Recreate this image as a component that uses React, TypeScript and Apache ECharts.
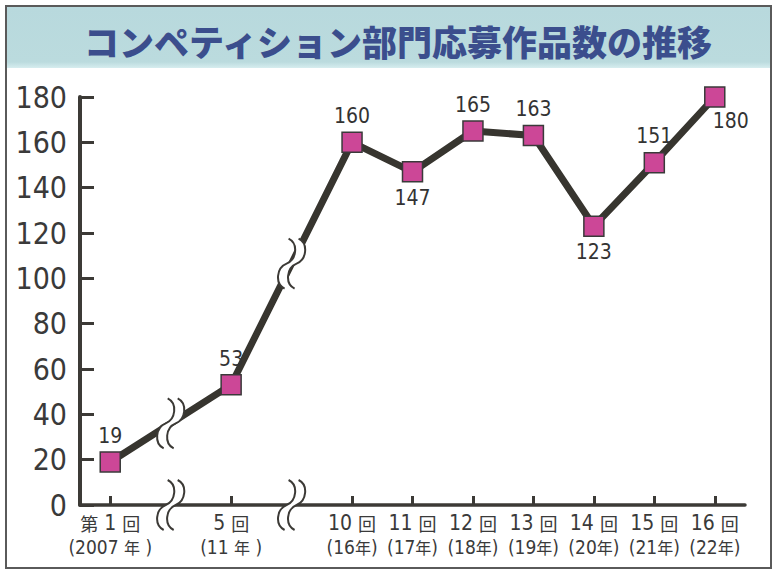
import React, { useEffect, useRef } from 'react';
import * as echarts from 'echarts';

const titleText = 'コンペティション部門応募作品数の推移';
const rounds = ['第 1 回', '', '5 回', '', '10 回', '11 回', '12 回', '13 回', '14 回', '15 回', '16 回'];
const years = ['(2007 年 )', '', '(11 年 )', '', '(16年)', '(17年)', '(18年)', '(19年)', '(20年)', '(21年)', '(22年)'];
const entries: (number | null)[] = [19, null, 53, null, 160, 147, 165, 163, 123, 151, 180];
const yMin = 0;
const yMax = 180;
const yStep = 20;

const NUM_FONT = "'DejaVu Sans Condensed', sans-serif";
const CJK_FONT = "'Noto Sans CJK JP', sans-serif";

const brkLine = 'M2 -25 C12 -20 10 -4 0 0 C-10 4 -12 20 -2 25 M12 -25 C22 -20 20 -4 10 0 C0 4 -2 20 8 25';
const brkFill = 'M2 -25 C12 -20 10 -4 0 0 C-10 4 -12 20 -2 25 L8 25 C-2 20 0 4 10 0 C20 -4 22 -20 12 -25 Z';
echarts.graphic.registerShape('brkLine', echarts.graphic.extendPath(brkLine, {}));
echarts.graphic.registerShape('brkFill', echarts.graphic.extendPath(brkFill, {}));

const richify = (s: string, n: string, c: string) =>
  s.replace(/([^\u3000-\u9fff]+)|([\u3000-\u9fff]+)/g, (m: string, a: string, b: string) =>
    a ? `{${n}|${a}}` : `{${c}|${b}}`
  );

const labelPlace = (i: number) => {
  const v = entries[i] as number;
  const prev = entries.slice(0, i).filter((x) => x != null).pop() as number | undefined;
  const next = entries.slice(i + 1).find((x) => x != null) as number | undefined;
  if (next === undefined) return { position: 'bottom', offset: [16, -2] };
  if (prev !== undefined && v < prev && v < next) return { position: 'bottom' };
  return { position: 'top' };
};

export default function App() {
  const ref = useRef<HTMLDivElement>(null);
  useEffect(() => {
    if (!ref.current) return;
    const chart = echarts.init(ref.current, undefined, { renderer: 'svg' });
    const cats = rounds.map((r, i) => r || `gap${i}`);
    chart.setOption({
      animation: false,
      backgroundColor: '#ffffff',
      grid: { left: 80, right: 35, top: 97, bottom: 68, containLabel: false },
      xAxis: {
        type: 'category',
        data: cats,
        boundaryGap: true,
        axisLine: { show: true, lineStyle: { color: '#3c3a36', width: 3.5 } },
        axisTick: {
          show: true,
          inside: true,
          length: 9,
          alignWithLabel: true,
          interval: (i: number) => entries[i] != null,
          lineStyle: { color: '#3c3a36', width: 3 },
        },
        splitLine: { show: false },
        axisLabel: {
          interval: 0,
          margin: 6,
          formatter: (_v: string, i: number) =>
            rounds[i] ? `${richify(rounds[i], 'n', 'c')}\n${richify(years[i], 'm', 'd')}` : '',
          rich: {
            n: { fontFamily: NUM_FONT, fontSize: 21, color: '#3a3a3a', lineHeight: 24 },
            c: { fontFamily: CJK_FONT, fontSize: 18, color: '#3a3a3a', lineHeight: 24 },
            m: { fontFamily: NUM_FONT, fontSize: 19, color: '#3a3a3a', lineHeight: 23 },
            d: { fontFamily: CJK_FONT, fontSize: 16, color: '#3a3a3a', lineHeight: 23 },
          },
        },
      },
      yAxis: {
        type: 'value',
        min: yMin,
        max: yMax,
        interval: yStep,
        axisLine: { show: true, lineStyle: { color: '#3c3a36', width: 4 } },
        axisTick: { show: true, inside: true, length: 14, lineStyle: { color: '#3c3a36', width: 3 } },
        splitLine: { show: false },
        axisLabel: { fontFamily: NUM_FONT, fontSize: 30, color: '#3a3a3a', margin: 13 },
      },
      series: [
        {
          type: 'line',
          data: entries.map((v, i) =>
            v == null
              ? '-'
              : { value: v, label: { show: true, ...labelPlace(i) } }
          ),
          connectNulls: true,
          symbol: 'rect',
          symbolSize: 20,
          lineStyle: { color: '#37352f', width: 7 },
          itemStyle: { color: '#cc4797', borderColor: '#3a3a3a', borderWidth: 1.5 },
          label: {
            show: true,
            fontFamily: NUM_FONT,
            fontSize: 21,
            color: '#333333',
            distance: 5,
          },
          z: 3,
        },
      ],
    });

    const graphics: any[] = [
      {
        type: 'rect',
        shape: { x: 7, y: 7, width: 763, height: 61 },
        style: {
          fill: new echarts.graphic.LinearGradient(0, 0, 0, 1, [
            { offset: 0, color: '#b8d9dd' },
            { offset: 0.9, color: '#bbdbde' },
            { offset: 1, color: '#d6edef' },
          ]),
        },
        z: 1,
      },
      {
        type: 'rect',
        shape: { x: 6, y: 6, width: 765, height: 562 },
        style: { fill: 'none', stroke: '#5a5a5a', lineWidth: 2 },
        z: 2,
      },
      {
        type: 'text',
        x: 398,
        y: 40,
        style: {
          text: titleText,
          font: `900 35px ${CJK_FONT}`,
          fill: '#3b4e8d',
          align: 'center',
          verticalAlign: 'middle',
        },
        z: 3,
      },
    ];

    entries.forEach((v, i) => {
      if (v != null) return;
      const prev = entries.slice(0, i).filter((x) => x != null).pop() as number;
      const next = entries.slice(i + 1).find((x) => x != null) as number;
      const points = [
        chart.convertToPixel({ gridIndex: 0 }, [i, (prev + next) / 2]),
        chart.convertToPixel({ gridIndex: 0 }, [i, yMin]),
      ];
      points.forEach((p) => {
        graphics.push({
          type: 'brkFill',
          x: p[0] - 5,
          y: p[1],
          style: { fill: '#ffffff' },
          z: 20,
        });
        graphics.push({
          type: 'brkLine',
          x: p[0] - 5,
          y: p[1],
          style: { fill: 'none', stroke: '#3c3a36', lineWidth: 2 },
          z: 21,
        });
      });
    });

    chart.setOption({ graphic: graphics });
    return () => chart.dispose();
  }, []);
  return (
    <div
      ref={ref}
      style={{ position: 'fixed', left: 0, top: 0, width: 780, height: 573, background: '#fff' }}
    />
  );
}
